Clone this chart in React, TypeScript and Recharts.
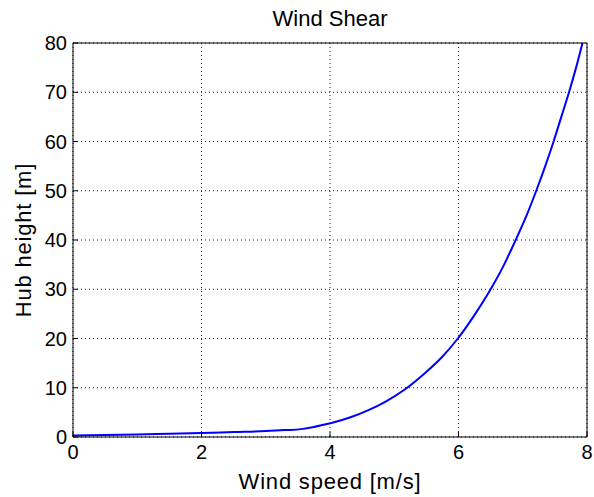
import { LineChart, Line, XAxis, YAxis, CartesianGrid, Label } from "recharts"

// wind speed [m/s] vs hub height [m]
const speed = [0, 0.5, 1, 1.5, 2, 2.5, 3, 3.3, 3.55, 3.75, 3.9, 4.05, 4.32, 4.59, 4.88, 5.18, 5.48, 5.74, 5.99, 6.24, 6.5, 6.69, 6.89, 7.06, 7.21, 7.35, 7.48, 7.6, 7.72, 7.83, 7.93]
const height = [0.3, 0.4, 0.5, 0.65, 0.8, 1.0, 1.2, 1.4, 1.6, 2.05, 2.5, 2.95, 4.0, 5.4, 7.3, 9.8, 13, 16.2, 20, 24.6, 30, 34.5, 40, 45, 50, 55, 60, 65, 70, 75, 80]
const xTicks = [0, 2, 4, 6, 8]
const yTicks = [0, 10, 20, 30, 40, 50, 60, 70, 80]

const font = "'Liberation Sans', Arial, Helvetica, sans-serif"
const tickStyle = { fill: "#000", fontSize: 20, fontFamily: font }
const labelStyle = { fill: "#000", fontSize: 22, fontFamily: font, letterSpacing: 0.8 }

export default function App() {
  let data = speed.map((s, i) => ({ speed: s, height: height[i] }))

  return (
    <div style={{ position: "absolute", left: 0, top: 0, width: 594, height: 497, background: "#fff" }}>
      <LineChart width={594} height={497} data={data} margin={{ top: 0, right: 0, bottom: 0, left: 0 }}>
        <CartesianGrid stroke="#222" strokeDasharray="1 3" />
        <XAxis
          dataKey="speed"
          type="number"
          domain={[0, 8]}
          ticks={xTicks}
          height={60}
          tick={tickStyle}
          tickSize={-5}
          tickMargin={13}
          stroke="#000"
          allowDataOverflow
        >
          <Label value="Wind speed [m/s]" position="insideBottom" offset={8} style={labelStyle} />
        </XAxis>
        <XAxis
          xAxisId="top"
          orientation="top"
          dataKey="speed"
          type="number"
          domain={[0, 8]}
          ticks={xTicks}
          height={43}
          tick={false}
          tickSize={-5}
          stroke="#000"
        >
          <Label value="Wind Shear" position="insideTop" offset={10} style={{ fill: "#000", fontSize: 22, fontFamily: font }} />
        </XAxis>
        <YAxis
          type="number"
          domain={[0, 80]}
          ticks={yTicks}
          width={73}
          tick={tickStyle}
          tickSize={-5}
          tickMargin={11}
          stroke="#000"
          allowDataOverflow
        >
          <Label value="Hub height [m]" angle={-90} position="insideLeft" offset={23} style={{ ...labelStyle, textAnchor: "middle" }} />
        </YAxis>
        <YAxis
          yAxisId="right"
          orientation="right"
          type="number"
          domain={[0, 80]}
          ticks={yTicks}
          width={7}
          tick={false}
          tickSize={-5}
          stroke="#000"
        />
        <Line type="monotone" dataKey="height" stroke="#0000ff" strokeWidth={2} dot={false} isAnimationActive={false} />
      </LineChart>
    </div>
  )
}
